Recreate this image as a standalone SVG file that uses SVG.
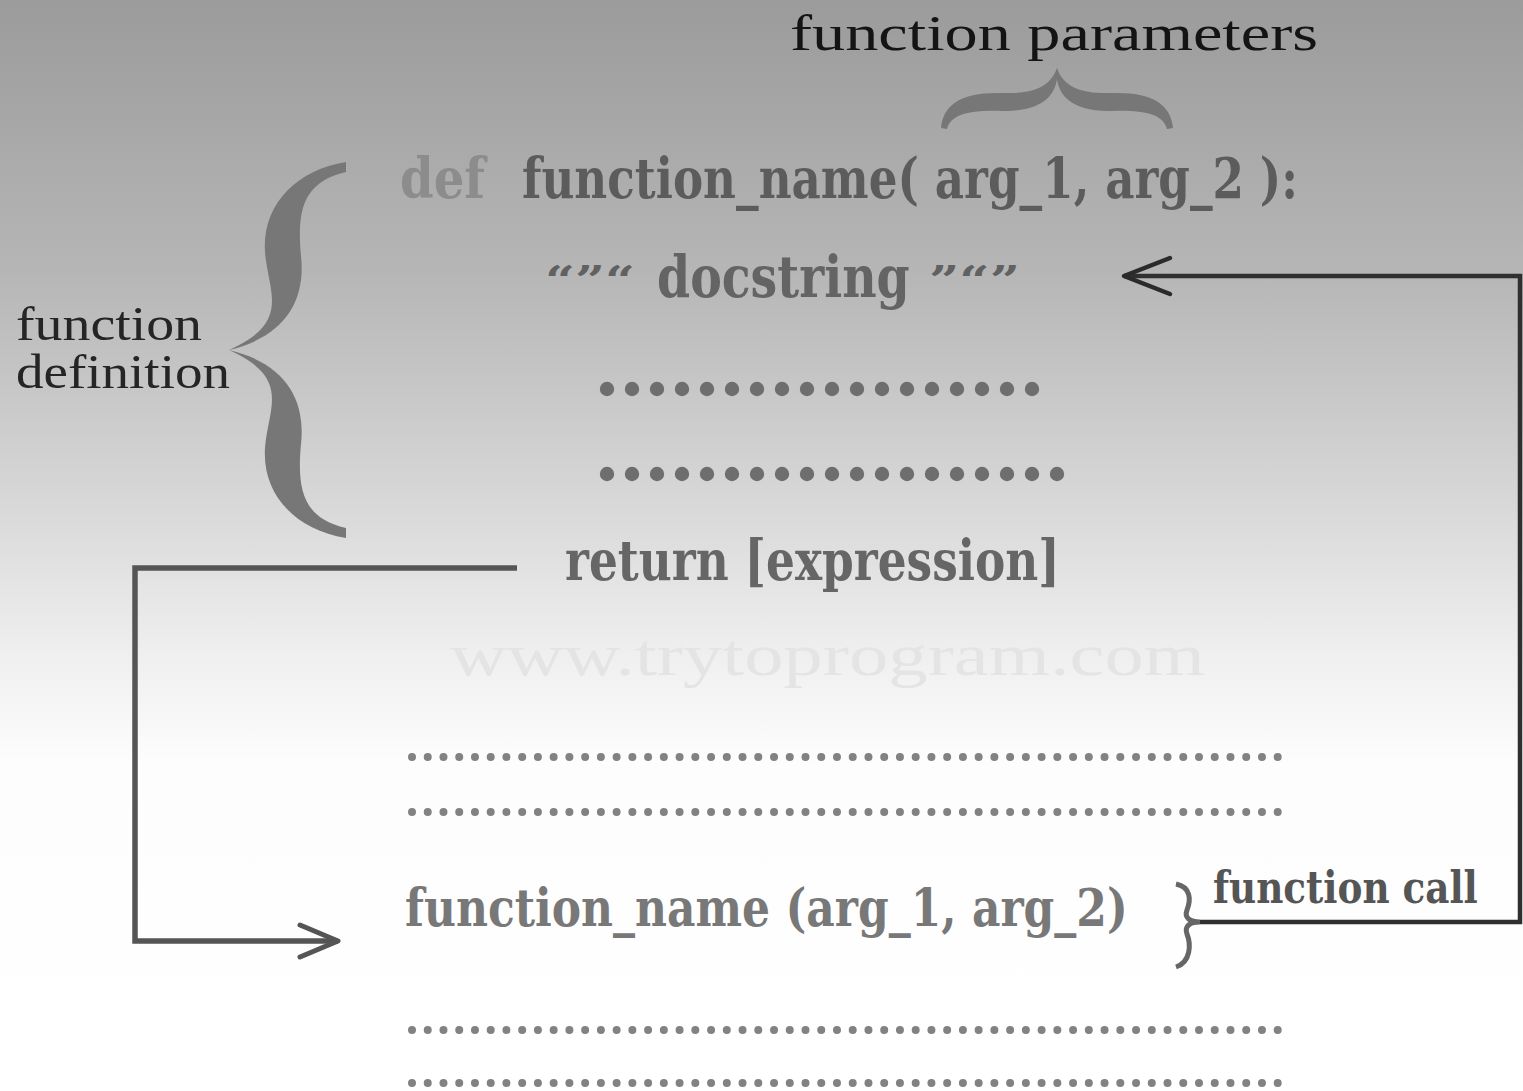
<svg xmlns="http://www.w3.org/2000/svg" width="1523" height="1091" viewBox="0 0 1523 1091">
  <defs>
    <linearGradient id="bg" x1="0" y1="0" x2="0" y2="1091" gradientUnits="userSpaceOnUse">
      <stop offset="0" stop-color="#9b9b9b"/>
      <stop offset="0.25" stop-color="#b6b6b6"/>
      <stop offset="0.45" stop-color="#d6d6d6"/>
      <stop offset="0.6" stop-color="#efefef"/>
      <stop offset="0.7" stop-color="#fdfdfd"/>
      <stop offset="1" stop-color="#ffffff"/>
    </linearGradient>
    <marker id="chevDark" markerUnits="userSpaceOnUse" viewBox="-50 -22 56 44" refX="0" refY="0" markerWidth="56" markerHeight="44" orient="auto" overflow="visible">
      <path d="M -46 -18 L 0 0 L -46 18" fill="none" stroke="#2b2b2b" stroke-width="4.5" stroke-linecap="round" stroke-linejoin="round"/>
    </marker>
    <marker id="chevGray" markerUnits="userSpaceOnUse" viewBox="-50 -22 56 44" refX="0" refY="0" markerWidth="56" markerHeight="44" orient="auto" overflow="visible">
      <path d="M -38 -16 L 0 0 L -38 16" fill="none" stroke="#555" stroke-width="5" stroke-linecap="round" stroke-linejoin="round"/>
    </marker>
    <path id="braceHalf" d="M 346 162 C 296 170 262 205 265 252 C 268 292 292 322 229 350 C 284 337 306 302 301 256 C 297 212 302 182 346 172 Z"/>
    <path id="topBraceHalf" d="M 941 128 C 943 104 963 92 1000 93 C 1032 94 1050 88 1057 68 C 1060 95 1042 112 1002 111 C 970 110 951 114 947 129 Z"/>
  </defs>
  <style>
    .bold { font-family: "DejaVu Serif", "Liberation Serif", serif; font-weight: bold; }
    .reg { font-family: "Liberation Serif", "DejaVu Serif", serif; font-weight: normal; }
    .brace { fill: #777; }
    .bigdot { fill: #6e6e6e; }
    .dotrow { stroke: #828282; stroke-width: 8; stroke-linecap: round; stroke-dasharray: 0 15.74; fill: none; }
    .conn { fill: none; stroke-linejoin: miter; }
  </style>

  <rect x="0" y="0" width="1523" height="1091" fill="url(#bg)"/>

  <!-- watermark -->
  <text class="reg" x="450" y="675" font-size="60" fill="#e4e4e4" textLength="755" lengthAdjust="spacingAndGlyphs">www.trytoprogram.com</text>

  <g id="label-parameters">
    <text class="reg" x="790" y="50" font-size="50" fill="#141414" textLength="528" lengthAdjust="spacingAndGlyphs">function parameters</text>
    <use href="#topBraceHalf" class="brace"/>
    <use href="#topBraceHalf" class="brace" transform="translate(2114,0) scale(-1,1)"/>
  </g>

  <g id="label-definition">
    <text class="reg" x="16" y="340" font-size="48" fill="#252525" textLength="186" lengthAdjust="spacingAndGlyphs">function</text>
    <text class="reg" x="16" y="388" font-size="48" fill="#252525" textLength="214" lengthAdjust="spacingAndGlyphs">definition</text>
    <use href="#braceHalf" class="brace"/>
    <use href="#braceHalf" class="brace" transform="translate(0,700) scale(1,-1)"/>
  </g>

  <g id="def-line">
    <text class="bold" x="400" y="198" font-size="56" fill="#8c8c8c" textLength="85" lengthAdjust="spacingAndGlyphs">def</text>
    <text class="bold" transform="translate(522,198) scale(0.76,1)" x="0" y="0" font-size="56" fill="#5c5c5c" textLength="1021" lengthAdjust="spacingAndGlyphs">function_name( arg_1, arg_2 ):</text>
  </g>

  <g id="docstring">
    <text class="bold" x="545" y="294" font-size="40" fill="#616161" textLength="90" lengthAdjust="spacingAndGlyphs">&#8220;&#8221;&#8220;</text>
    <text class="bold" transform="translate(657,297) scale(0.72,1)" x="0" y="0" font-size="58" fill="#646464" textLength="351" lengthAdjust="spacingAndGlyphs">docstring</text>
    <text class="bold" x="929" y="294" font-size="40" fill="#616161" textLength="91" lengthAdjust="spacingAndGlyphs">&#8221;&#8220;&#8221;</text>
  </g>

  <g id="body-dots">
    <g class="bigdot">
      <circle cx="607" cy="389" r="7.2"/><circle cx="632" cy="389" r="7.2"/><circle cx="657" cy="389" r="7.2"/><circle cx="682" cy="389" r="7.2"/><circle cx="707" cy="389" r="7.2"/><circle cx="732" cy="389" r="7.2"/><circle cx="757" cy="389" r="7.2"/><circle cx="782" cy="389" r="7.2"/><circle cx="807" cy="389" r="7.2"/><circle cx="832" cy="389" r="7.2"/><circle cx="857" cy="389" r="7.2"/><circle cx="882" cy="389" r="7.2"/><circle cx="907" cy="389" r="7.2"/><circle cx="932" cy="389" r="7.2"/><circle cx="957" cy="389" r="7.2"/><circle cx="982" cy="389" r="7.2"/><circle cx="1007" cy="389" r="7.2"/><circle cx="1032" cy="389" r="7.2"/>
      <circle cx="607" cy="474" r="7.2"/><circle cx="632" cy="474" r="7.2"/><circle cx="657" cy="474" r="7.2"/><circle cx="682" cy="474" r="7.2"/><circle cx="707" cy="474" r="7.2"/><circle cx="732" cy="474" r="7.2"/><circle cx="757" cy="474" r="7.2"/><circle cx="782" cy="474" r="7.2"/><circle cx="807" cy="474" r="7.2"/><circle cx="832" cy="474" r="7.2"/><circle cx="857" cy="474" r="7.2"/><circle cx="882" cy="474" r="7.2"/><circle cx="907" cy="474" r="7.2"/><circle cx="932" cy="474" r="7.2"/><circle cx="957" cy="474" r="7.2"/><circle cx="982" cy="474" r="7.2"/><circle cx="1007" cy="474" r="7.2"/><circle cx="1032" cy="474" r="7.2"/><circle cx="1057" cy="474" r="7.2"/>
    </g>
  </g>

  <g id="return-line">
    <text class="bold" transform="translate(565,580) scale(0.76,1)" x="0" y="0" font-size="56" fill="#666" textLength="651" lengthAdjust="spacingAndGlyphs">return [expression]</text>
  </g>

  <g id="code-dots">
    <line class="dotrow" x1="412" y1="757" x2="1280" y2="757"/>
    <line class="dotrow" x1="412" y1="812" x2="1280" y2="812"/>
    <line class="dotrow" x1="412" y1="1030" x2="1280" y2="1030"/>
    <line class="dotrow" x1="412" y1="1083" x2="1280" y2="1083"/>
  </g>

  <g id="call-line">
    <text class="bold" transform="translate(405,926) scale(0.76,1)" x="0" y="0" font-size="52" fill="#787878" textLength="951" lengthAdjust="spacingAndGlyphs">function_name (arg_1, arg_2)</text>
  </g>

  <g id="label-call">
    <path d="M 1176 884 C 1191 887 1191 900 1187 910 C 1184 918 1190 922 1200 922 C 1190 922 1184 926 1187 934 C 1191 944 1191 962 1176 967" fill="none" stroke="#666" stroke-width="5"/>
    <text class="bold" transform="translate(1213,903) scale(0.8,1)" x="0" y="0" font-size="44" fill="#555" textLength="331" lengthAdjust="spacingAndGlyphs">function call</text>
  </g>

  <g id="connectors">
    <path class="conn" d="M 1200 922 L 1520 922 L 1520 276 L 1124 276" stroke="#2f2f2f" stroke-width="4.5" marker-end="url(#chevDark)"/>
    <path class="conn" d="M 517 568 L 135 568 L 135 941 L 338 941" stroke="#555" stroke-width="5.5" marker-end="url(#chevGray)"/>
  </g>
</svg>
